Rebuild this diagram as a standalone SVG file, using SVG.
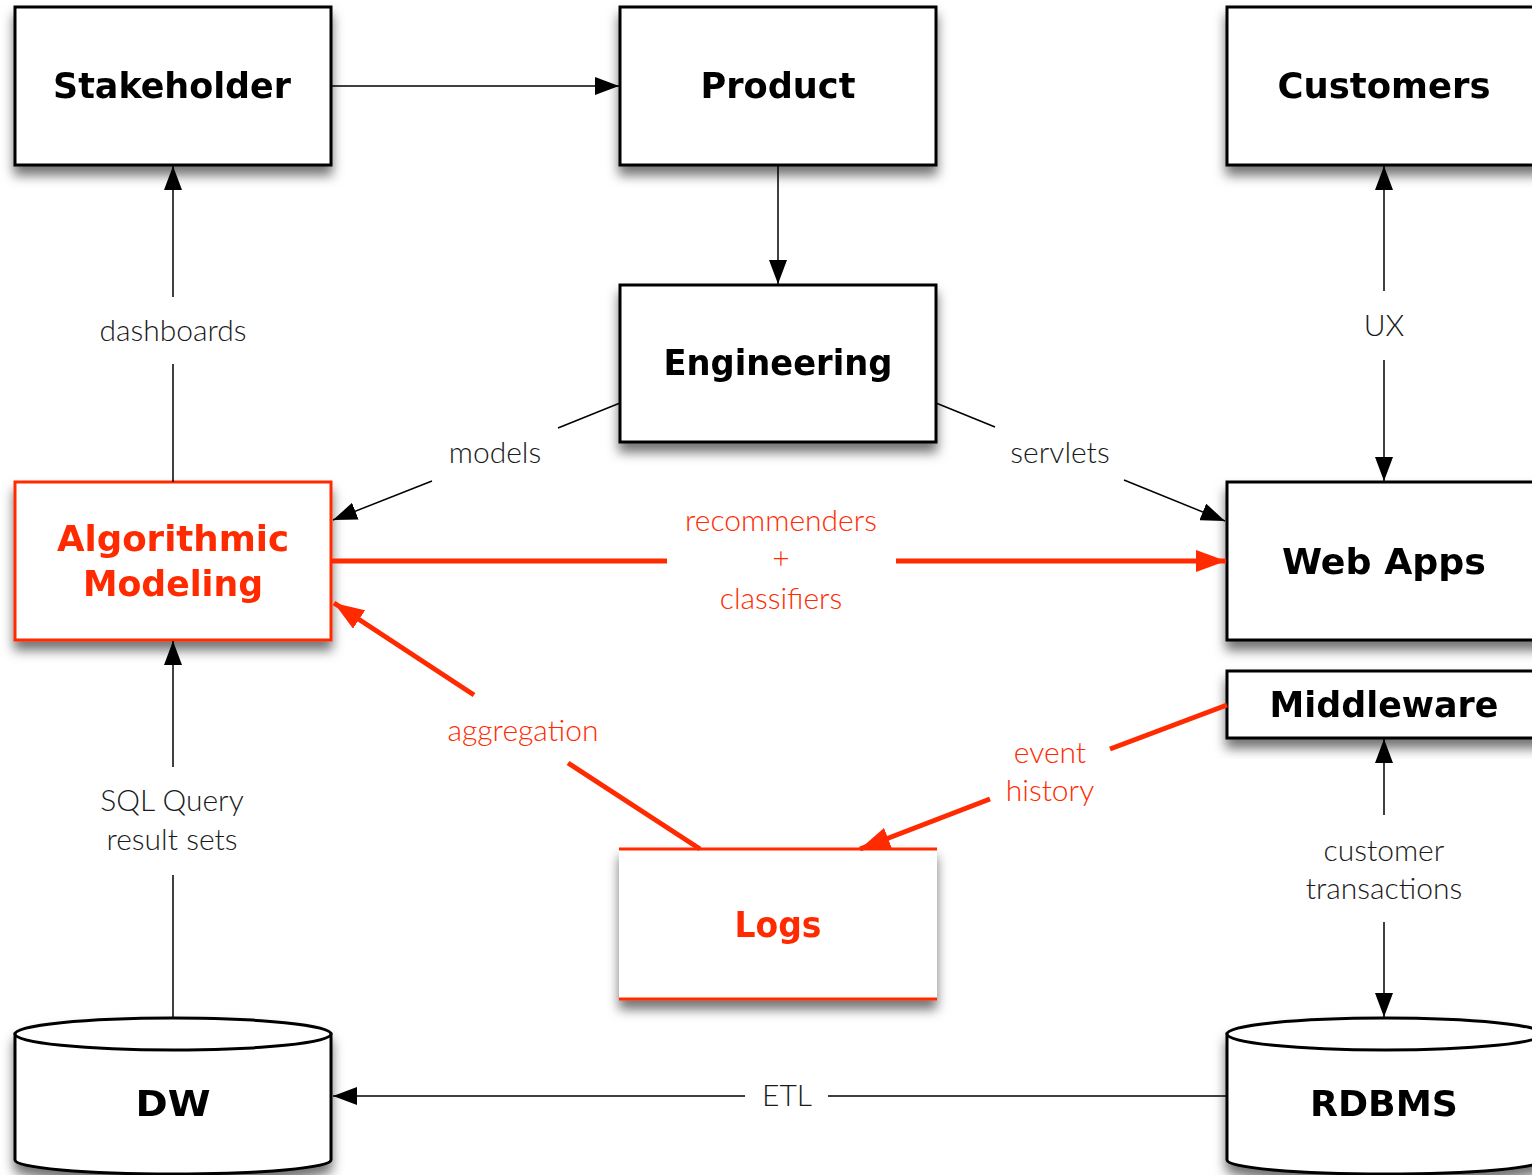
<svg xmlns="http://www.w3.org/2000/svg" width="1532" height="1175" viewBox="0 0 1532 1175">
<style>
.box{fill:#fff;stroke:#000;stroke-width:3}
.rbox{fill:#fff;stroke:#ff2a00;stroke-width:3}
.t{font-family:"DejaVu Sans","Liberation Sans",sans-serif;font-weight:bold;font-size:35px;text-anchor:middle;fill:#000}
.rt{fill:#ff2a00}
.l{font-family:Lato,"Open Sans","Liberation Sans",sans-serif;font-weight:300;font-size:30px;text-anchor:middle;fill:#1a1a1a}
.rl{fill:#ff2a00}
.c{fill:none;stroke:#000;stroke-width:1.5}
.rc{fill:none;stroke:#ff2a00;stroke-width:5}
</style>
<defs>
<filter id="sh" x="-20%" y="-20%" width="140%" height="150%">
<feDropShadow dx="0" dy="9" stdDeviation="6" flood-color="#000" flood-opacity="0.55"/>
</filter>
<marker id="a" viewBox="0 0 24 18" refX="24" refY="9" markerWidth="24" markerHeight="18" markerUnits="userSpaceOnUse" orient="auto">
<path d="M0,0 L24,9 L0,18 Z" fill="#000"/>
</marker>
<marker id="ra" viewBox="0 0 30 22" refX="30" refY="11" markerWidth="30" markerHeight="22" markerUnits="userSpaceOnUse" orient="auto">
<path d="M0,0 L30,11 L0,22 Z" fill="#ff2a00"/>
</marker>
</defs>
<rect width="1532" height="1175" fill="#fff"/>

<g id="stakeholder" filter="url(#sh)">
<rect class="box" x="15" y="7" width="316" height="158"/>
<text class="t" x="172" y="98" textLength="238" lengthAdjust="spacingAndGlyphs">Stakeholder</text>
</g>
<g id="product" filter="url(#sh)">
<rect class="box" x="620" y="7" width="316" height="158"/>
<text class="t" x="778" y="98" textLength="155" lengthAdjust="spacingAndGlyphs">Product</text>
</g>
<g id="customers" filter="url(#sh)">
<rect class="box" x="1227" y="7" width="320" height="158"/>
<text class="t" x="1384" y="98" textLength="213" lengthAdjust="spacingAndGlyphs">Customers</text>
</g>
<g id="engineering" filter="url(#sh)">
<rect class="box" x="620" y="285" width="316" height="157"/>
<text class="t" x="778" y="375" textLength="229" lengthAdjust="spacingAndGlyphs">Engineering</text>
</g>
<g id="algorithmic" filter="url(#sh)">
<rect class="rbox" x="15" y="482" width="316" height="158"/>
<text class="t rt" x="173" y="551" textLength="232" lengthAdjust="spacingAndGlyphs">Algorithmic</text>
<text class="t rt" x="173" y="596" textLength="180" lengthAdjust="spacingAndGlyphs">Modeling</text>
</g>
<g id="webapps" filter="url(#sh)">
<rect class="box" x="1227" y="482" width="320" height="158"/>
<text class="t" x="1384" y="574" textLength="204" lengthAdjust="spacingAndGlyphs">Web Apps</text>
</g>
<g id="middleware" filter="url(#sh)">
<rect class="box" x="1227" y="671" width="320" height="67"/>
<text class="t" x="1384" y="717" textLength="229" lengthAdjust="spacingAndGlyphs">Middleware</text>
</g>
<g id="logs" filter="url(#sh)">
<rect x="619" y="849" width="318" height="150" fill="#fff"/>
<line x1="619" y1="849" x2="937" y2="849" stroke="#ff2a00" stroke-width="3"/>
<line x1="619" y1="999" x2="937" y2="999" stroke="#ff2a00" stroke-width="3"/>
<text class="t rt" x="778" y="937" textLength="87" lengthAdjust="spacingAndGlyphs">Logs</text>
</g>
<g id="dw" filter="url(#sh)">
<path class="box" d="M15,1034 L15,1160 A158,14 0 0 0 331,1160 L331,1034 Z"/>
<ellipse class="box" cx="173" cy="1034" rx="158" ry="16"/>
<text class="t" x="173" y="1116" textLength="75" lengthAdjust="spacingAndGlyphs">DW</text>
</g>
<g id="rdbms" filter="url(#sh)">
<path class="box" d="M1227,1034 L1227,1160 A158,14 0 0 0 1543,1160 L1543,1034 Z"/>
<ellipse class="box" cx="1385" cy="1034" rx="158" ry="16"/>
<text class="t" x="1384" y="1116" textLength="148" lengthAdjust="spacingAndGlyphs">RDBMS</text>
</g>

<g id="connectors">
<line class="c" x1="331" y1="86" x2="619" y2="86" marker-end="url(#a)"/>
<line class="c" x1="778" y1="165" x2="778" y2="284" marker-end="url(#a)"/>
<line class="c" x1="173" y1="482" x2="173" y2="364"/>
<line class="c" x1="173" y1="297" x2="173" y2="166" marker-end="url(#a)"/>
<line class="c" x1="620" y1="403" x2="558" y2="428"/>
<line class="c" x1="432" y1="481" x2="333" y2="520" marker-end="url(#a)"/>
<line class="c" x1="936" y1="403" x2="995" y2="427"/>
<line class="c" x1="1124" y1="480" x2="1225" y2="521" marker-end="url(#a)"/>
<line class="c" x1="1384" y1="291" x2="1384" y2="166" marker-end="url(#a)"/>
<line class="c" x1="1384" y1="360" x2="1384" y2="481" marker-end="url(#a)"/>
<line class="c" x1="173" y1="1018" x2="173" y2="875"/>
<line class="c" x1="173" y1="767" x2="173" y2="641" marker-end="url(#a)"/>
<line class="c" x1="1384" y1="815" x2="1384" y2="739" marker-end="url(#a)"/>
<line class="c" x1="1384" y1="922" x2="1384" y2="1017" marker-end="url(#a)"/>
<line class="c" x1="1227" y1="1096" x2="828" y2="1096"/>
<line class="c" x1="745" y1="1096" x2="333" y2="1096" marker-end="url(#a)"/>
<line class="rc" x1="331" y1="561" x2="667" y2="561"/>
<line class="rc" x1="896" y1="561" x2="1226" y2="561" marker-end="url(#ra)"/>
<line class="rc" x1="700" y1="849" x2="568" y2="763"/>
<line class="rc" x1="474" y1="695" x2="334" y2="603" marker-end="url(#ra)"/>
<line class="rc" x1="1227" y1="705" x2="1110" y2="749"/>
<line class="rc" x1="990" y1="799" x2="860" y2="849" marker-end="url(#ra)"/>
</g>

<g id="labels">
<text class="l" x="173" y="341">dashboards</text>
<text class="l" x="495" y="463">models</text>
<text class="l" x="1060" y="463">servlets</text>
<text class="l" x="1384" y="336">UX</text>
<text class="l rl" x="781" y="531">recommenders</text>
<text class="l rl" x="781" y="569">+</text>
<text class="l rl" x="781" y="609">classifiers</text>
<text class="l rl" x="523" y="741">aggregation</text>
<text class="l rl" x="1050" y="763">event</text>
<text class="l rl" x="1050" y="801">history</text>
<text class="l" x="172" y="811">SQL Query</text>
<text class="l" x="172" y="850">result sets</text>
<text class="l" x="1384" y="861">customer</text>
<text class="l" x="1384" y="899">transactions</text>
<text class="l" x="787" y="1106">ETL</text>
</g>
</svg>
